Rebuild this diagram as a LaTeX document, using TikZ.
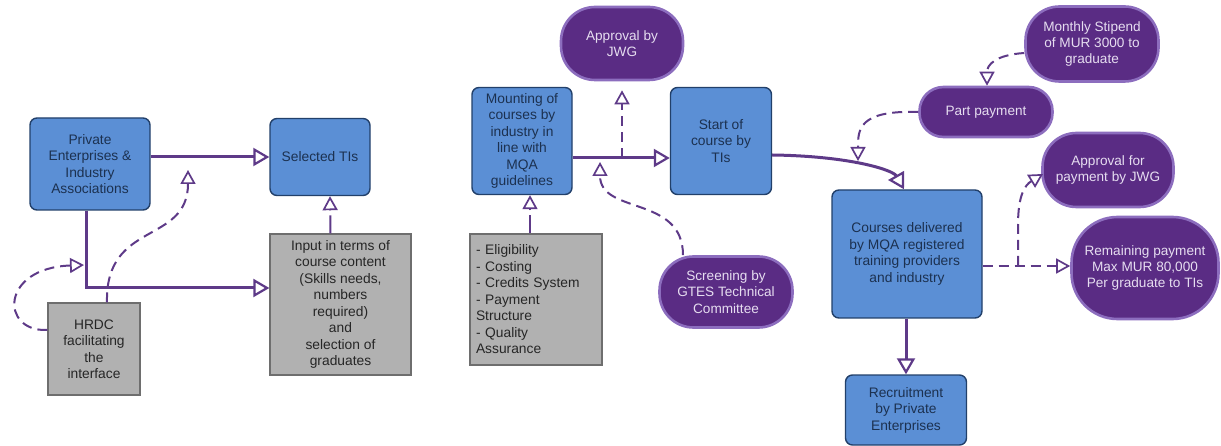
\documentclass[tikz,border=0pt]{standalone}
\usepackage{fontspec}
\setmainfont{Liberation Sans}
\usetikzlibrary{arrows.meta,calc}
\definecolor{bluefill}{HTML}{5B8FD5}
\definecolor{bluebd}{HTML}{22406A}
\definecolor{navy}{HTML}{1C3150}
\definecolor{greyfill}{HTML}{B1B1B1}
\definecolor{greybd}{HTML}{6E6E6E}
\definecolor{purfill}{HTML}{5A2C84}
\definecolor{purbd}{HTML}{8C6DBE}
\definecolor{purline}{HTML}{5E3A88}
\definecolor{purtext}{HTML}{E6DDF0}
\tikzset{
  bluebox/.style={draw=bluebd, fill=bluefill, line width=1.4pt, rounded corners=7pt, align=center, text=navy, inner sep=2pt, font=\fontsize{13.8}{16.5}\selectfont},
  greybox/.style={draw=greybd, fill=greyfill, line width=1.3pt, align=center, text=black!85, inner sep=2pt, font=\fontsize{13.8}{16.5}\selectfont},
  purbox/.style={draw=purbd, fill=purfill, line width=2.6pt, rounded corners=34pt, align=center, text=purtext, inner sep=2pt, font=\fontsize{13.6}{16.3}\selectfont},
  tipS/.style={-{Triangle[fill=white, length=16pt, width=18pt, line width=2.2pt]}},
  tipD/.style={-{Triangle[fill=white, length=14pt, width=15pt, line width=1.7pt]}},
  flow/.style={draw=purline, line width=3pt, tipS},
  dflow/.style={draw=purline, line width=2pt, dash pattern=on 10pt off 6pt, tipD},
}
\begin{document}
\begin{tikzpicture}[x=1pt,y=-1pt]
\useasboundingbox (0,0) rectangle (1221,446);
% blue nodes
\node[bluebox, minimum width=120pt, minimum height=92pt] (pe) at (90,164) {Private\\Enterprises \&\\Industry\\Associations};
\node[bluebox, minimum width=100pt, minimum height=77pt] (sel) at (320,157) {Selected TIs};
\node[bluebox, minimum width=100pt, minimum height=107pt] (mount) at (522,141) {Mounting of\\courses by\\industry in\\line with\\MQA\\guidelines};
\node[bluebox, minimum width=101pt, minimum height=107pt] (start) at (721,141) {Start of\\course by\\TIs};
\node[bluebox, minimum width=150pt, minimum height=128pt] (cd) at (907,254) {Courses delivered\\by MQA registered\\training providers\\and industry};
\node[bluebox, minimum width=121pt, minimum height=70pt] (rec) at (906,410) {Recruitment\\by Private\\Enterprises};
% grey nodes
\node[greybox, minimum width=92pt, minimum height=92pt] (hrdc) at (94,349) {HRDC\\facilitating\\the\\interface};
\node[greybox, minimum width=141pt, minimum height=141pt] (input) at (340.5,304.5) {Input in terms of\\course content\\(Skills needs,\\numbers\\required)\\and\\selection of\\graduates};
\node[greybox, align=left, text width=120pt, inner xsep=6pt, minimum width=132pt, minimum height=131pt] (elig) at (536,299.5) {- Eligibility\\- Costing\\- Credits System\\- Payment\\Structure\\- Quality\\Assurance};
% purple nodes
\node[purbox, minimum width=122pt, minimum height=73pt] (jwg) at (622,43.5) {Approval by\\JWG};
\node[purbox, minimum width=133pt, minimum height=71pt] (scr) at (726,292) {Screening by\\GTES Technical\\Committee};
\node[purbox, minimum width=133pt, minimum height=75pt] (mon) at (1092,44) {Monthly Stipend\\of MUR 3000 to\\graduate};
\node[purbox, rounded corners=24pt, minimum width=133pt, minimum height=50pt] (part) at (986,112) {Part payment};
\node[purbox, minimum width=131pt, minimum height=74pt] (apay) at (1108,170) {Approval for\\payment by JWG};
\node[purbox, rounded corners=46pt, minimum width=147pt, minimum height=102pt] (rem) at (1145,268) {Remaining payment\\Max MUR 80,000\\Per graduate to TIs};
% free-end coordinates
\coordinate (h1) at (84,265);
\coordinate (h2) at (188,170);
\coordinate (j0) at (622,158);
\coordinate (s1) at (600,162);
\coordinate (p1) at (858,161);
\coordinate (c1) at (1018,266);
\coordinate (c2) at (1043,174);
% solid connectors
\draw[flow] (pe.east |- sel.west) -- (sel.west);
\draw[flow] ([xshift=-4pt]pe.south) |- ([yshift=16.5pt]input.west);
\draw[flow] ([yshift=-17pt]mount.east) -- ([yshift=-17pt]start.west);
\draw[flow] ([yshift=-14pt]start.east) .. controls (850,156) and (893,170) .. ([xshift=-3pt]cd.north);
\draw[flow] ([xshift=-1pt]cd.south) -- ([xshift=-1pt]cd.south |- rec.north);
% dashed connectors
\draw[dflow] ([yshift=19pt]hrdc.west) .. controls (0,332) and (0,268) .. (h1);
\draw[dflow] ([xshift=13pt]hrdc.north) .. controls (105,220) and (188,245) .. (h2);
\draw[dflow, dash pattern=on 18pt off 5pt] ([xshift=-10pt]input.north) -- ([xshift=10pt]sel.south);
\draw[dflow, dash pattern=on 18pt off 5pt] ([xshift=-6pt]elig.north) -- ([xshift=8pt]mount.south);
\draw[dflow, shorten >=9pt] (j0) -- (j0 |- jwg.south);
\draw[dflow] ([xshift=-43pt]scr.north) .. controls (683,195) and (600,215) .. (s1);
\draw[dflow] (part.west) .. controls (858,110) and (858,130) .. (p1);
\draw[dflow] ([yshift=-9pt]mon.west) .. controls (995,55) and (987,65) .. ([xshift=1pt]part.north);
\draw[dflow] ([yshift=-12pt]cd.east) -- ([yshift=-12pt]cd.east -| rem.west);
\draw[dflow] (c1) -- (1018,225) .. controls (1018,195) and (1025,185) .. (c2);
\end{tikzpicture}
\end{document}
